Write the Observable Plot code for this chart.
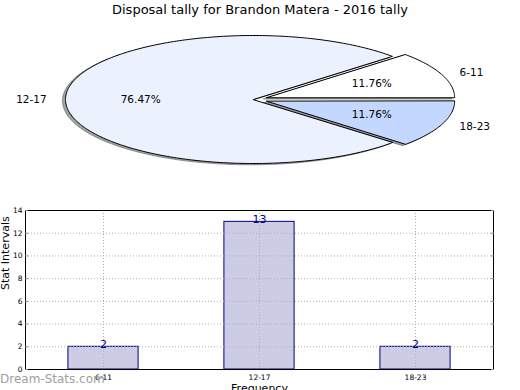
<!DOCTYPE html>
<html>
<head>
<meta charset="utf-8">
<script src="https://cdn.jsdelivr.net/npm/d3@7"></script>
<script src="https://cdn.jsdelivr.net/npm/@observablehq/plot@0.6"></script>
<style>
  html, body { margin: 0; padding: 0; background: #fff; }
  #wrap { position: relative; width: 520px; height: 390px; overflow: hidden; font-family: "DejaVu Sans", sans-serif; }
  #title { position: absolute; left: 0; top: 1px; width: 520px; text-align: center; font-size: 13px; line-height: 18px; color: #000; }
  #pie { position: absolute; left: 0; top: 0; }
  #bar { position: absolute; left: 0; top: 200px; }
  #mark { position: absolute; left: 0; top: 371px; font-size: 12px; color: #a0a0a0; line-height: 16px; }
</style>
</head>
<body>
<div id="wrap">
  <div id="pie"></div>
  <div id="bar"></div>
  <div id="title">Disposal tally for Brandon Matera - 2016 tally</div>
  <div id="mark">Dream-Stats.com</div>
</div>
<script>
const categories = ["6-11", "12-17", "18-23"];
const counts = [2, 13, 2];
const explode = [0.075, 0, 0.075];
const sliceColors = ["#ffffff", "#ebf2fe", "#c4d7fe"];
const yTicks = [0, 2, 4, 6, 8, 10, 12, 14];
const titleText = "Disposal tally for Brandon Matera - 2016 tally";
const xLabel = "Frequency";
const yLabel = "Stat Intervals";

// pie geometry from data
const total = d3.sum(counts);
let acc = 0;
const slices = categories.map((c, i) => {
  const a0 = acc, a1 = acc + counts[i] / total * 2 * Math.PI;
  acc = a1;
  const mid = (a0 + a1) / 2;
  return {c, i, a0, a1, mid, ox: explode[i] * Math.cos(mid), oy: explode[i] * Math.sin(mid), pct: counts[i] / total * 100};
});
function polygon(s, sx = 0, sy = 0) {
  const pts = [{x: s.ox + sx, y: s.oy + sy}];
  const n = Math.max(2, Math.ceil((s.a1 - s.a0) / (Math.PI / 180)));
  for (let k = 0; k <= n; k++) {
    const t = s.a0 + (s.a1 - s.a0) * k / n;
    pts.push({x: s.ox + sx + Math.cos(t), y: s.oy + sy + Math.sin(t)});
  }
  return pts;
}
function shadowOf(hex) {
  const c = d3.rgb(hex);
  return d3.rgb(c.r * 0.3, c.g * 0.3, c.b * 0.3).formatHex();
}
const pieMarks = [];
slices.forEach(s => {
  const sc = shadowOf(sliceColors[s.i]);
  pieMarks.push(Plot.line(polygon(s, -0.016, -0.02), {x: "x", y: "y", curve: "linear-closed", fill: sc, fillOpacity: 0.5, stroke: sc, strokeOpacity: 0.5, strokeWidth: 1}));
});
slices.forEach(s => {
  pieMarks.push(Plot.line(polygon(s), {x: "x", y: "y", curve: "linear-closed", fill: sliceColors[s.i], stroke: "#000", strokeWidth: 1}));
});
pieMarks.push(Plot.text(slices, {filter: d => Math.cos(d.mid) >= 0, x: d => d.ox + 1.1 * Math.cos(d.mid), y: d => d.oy + 1.1 * Math.sin(d.mid), text: "c", textAnchor: "start", fontSize: 10.5, fill: "#000"}));
pieMarks.push(Plot.text(slices, {filter: d => Math.cos(d.mid) < 0, x: d => d.ox + 1.1 * Math.cos(d.mid), y: d => d.oy + 1.1 * Math.sin(d.mid), text: "c", textAnchor: "end", fontSize: 10.5, fill: "#000"}));
pieMarks.push(Plot.text(slices, {x: d => d.ox + 0.6 * Math.cos(d.mid), y: d => d.oy + 0.6 * Math.sin(d.mid), text: d => d.pct.toFixed(2) + "%", fontSize: 10.5, fill: "#000"}));

const pie = Plot.plot({
  width: 520, height: 200, margin: 0,
  x: {domain: [-1, 1], range: [65, 441], axis: null},
  y: {domain: [-1, 1], range: [163, 35], axis: null},
  style: {fontFamily: "DejaVu Sans", background: "transparent", overflow: "visible"},
  marks: pieMarks
});
document.getElementById("pie").appendChild(pie);

const barData = categories.map((c, i) => ({category: c, count: counts[i]}));
const grid = {stroke: "#b0b0b0", strokeOpacity: 1, strokeDasharray: "1,2", strokeWidth: 1};
const bar = Plot.plot({
  width: 520, height: 190,
  marginLeft: 25, marginRight: 27, marginTop: 10, marginBottom: 21,
  x: {domain: categories, paddingInner: 0.55, paddingOuter: 0.275, round: false, label: null},
  y: {domain: [0, 14], label: null},
  style: {fontFamily: "DejaVu Sans", background: "transparent", overflow: "visible", color: "#000"},
  marks: [
    Plot.barY(barData, {x: "category", y: "count", fill: "#ccccE5", stroke: "#000080", strokeWidth: 1}),
    Plot.gridY(yTicks, grid),
    Plot.gridX(categories, grid),
    Plot.text(barData, {x: "category", y: "count", text: d => String(d.count), lineAnchor: "bottom", dy: 1, fill: "#000080", fontSize: 11}),
    Plot.frame({stroke: "#000", strokeWidth: 1}),
    Plot.axisY(yTicks, {tickSize: 0, tickPadding: 3, fontSize: 7.5, label: null}),
    Plot.axisY(yTicks, {tickSize: -3, tickFormat: () => "", label: null, stroke: "#888"}),
    Plot.axisY(yTicks, {anchor: "right", tickSize: -3, tickFormat: () => "", label: null, stroke: "#888"}),
    Plot.axisX({tickSize: 0, tickPadding: 5, fontSize: 7.5, label: null}),
    Plot.text([yLabel], {frameAnchor: "left", rotate: -90, dx: -20, fontSize: 11, fill: "#000"}),
    Plot.text([xLabel], {frameAnchor: "bottom", lineAnchor: "top", dy: 15, fontSize: 11, fill: "#000"})
  ]
});
document.getElementById("bar").appendChild(bar);
document.getElementById("title").textContent = titleText;
</script>
</body>
</html>
